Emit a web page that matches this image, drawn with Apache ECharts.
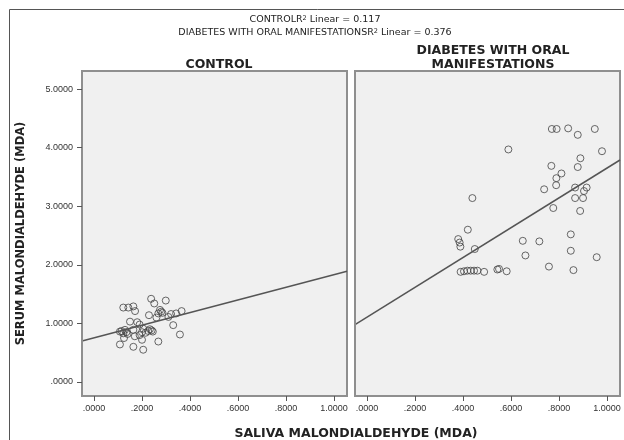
<!DOCTYPE html>
<html lang="en">
<head>
    <meta charset="UTF-8">
    <script type="text/javascript" src="https://cdn.jsdelivr.net/npm/echarts@6/dist/echarts.min.js"></script>
    <style>
        html, body { margin: 0; padding: 0; background: #fff; }
        #chart { width: 624px; height: 440px; }
    </style>
</head>
<body>
    <div id="chart"></div>
</body>
<script>
    // tick values / labels
    var xTicks = [0, 0.2, 0.4, 0.6, 0.8, 1.0];
    var yTicks = [0, 1, 2, 3, 4, 5];

    // CONTROL group (saliva, serum)
    var controlPoints = [
        [0.122, 1.27], [0.143, 1.27], [0.164, 1.29], [0.171, 1.21], [0.238, 1.42], [0.251, 1.34],
        [0.299, 1.39], [0.275, 1.23], [0.268, 1.17], [0.229, 1.14], [0.321, 1.16], [0.342, 1.17],
        [0.365, 1.21], [0.310, 1.11], [0.150, 1.03], [0.180, 1.02], [0.330, 0.97], [0.358, 0.81],
        [0.108, 0.86], [0.129, 0.89], [0.122, 0.83], [0.164, 0.89], [0.205, 0.91], [0.226, 0.87],
        [0.233, 0.90], [0.190, 0.80], [0.108, 0.64], [0.164, 0.60], [0.205, 0.55], [0.200, 0.72],
        [0.268, 0.69], [0.115, 0.87], [0.135, 0.85], [0.140, 0.82], [0.200, 0.85], [0.215, 0.84],
        [0.240, 0.88], [0.245, 0.86], [0.280, 1.20], [0.285, 1.18], [0.260, 1.10], [0.190, 0.98],
        [0.170, 0.78], [0.125, 0.75]
    ];
    // DIABETES WITH ORAL MANIFESTATIONS group
    var diabetesPoints = [
        [0.770, 4.32], [0.790, 4.32], [0.838, 4.33], [0.878, 4.22], [0.949, 4.32], [0.589, 3.97],
        [0.979, 3.94], [0.889, 3.82], [0.768, 3.69], [0.878, 3.67], [0.810, 3.56], [0.789, 3.48],
        [0.788, 3.36], [0.738, 3.29], [0.867, 3.32], [0.915, 3.32], [0.904, 3.26], [0.867, 3.14],
        [0.900, 3.14], [0.776, 2.97], [0.888, 2.92], [0.439, 3.14], [0.420, 2.60], [0.380, 2.44],
        [0.386, 2.38], [0.389, 2.31], [0.449, 2.27], [0.649, 2.41], [0.718, 2.40], [0.849, 2.52],
        [0.849, 2.24], [0.660, 2.16], [0.957, 2.13], [0.758, 1.97], [0.860, 1.91], [0.390, 1.88],
        [0.404, 1.89], [0.418, 1.90], [0.432, 1.90], [0.446, 1.90], [0.460, 1.90], [0.488, 1.88],
        [0.550, 1.93], [0.582, 1.89], [0.543, 1.92]
    ];
    // fit lines (end points at axis edges)
    var controlFit = [[-0.05, 0.70], [1.054, 1.89]];
    var diabetesFit = [[-0.05, 0.98], [1.054, 3.79]];

    var xMin = -0.05, xMax = 1.054, yMin = -0.24, yMax = 5.31;
    var font = "DejaVu Sans, sans-serif";
    var tickFont = "Liberation Sans, Arial, sans-serif";

    function fmt(v) {
        var s = v.toFixed(4);
        return s.charAt(0) === "0" ? s.substring(1) : s;
    }

    // axis line doubles as the panel frame, ticks point outward
    var frameLine = { show: true, onZero: false, lineStyle: { color: "#8f8f8f", width: 2 } };

    function xAxisOpt(idx) {
        return {
            type: "value", gridIndex: idx, min: xMin, max: xMax, z: 10,
            splitLine: { show: false },
            axisLine: frameLine,
            axisTick: { show: true, inside: false, length: 5, customValues: xTicks, lineStyle: { color: "#555", width: 1 } },
            axisLabel: { customValues: xTicks, formatter: fmt, fontSize: 9, color: "#333", fontFamily: tickFont, margin: 8 }
        };
    }
    function yAxisOpt(idx) {
        var o = {
            type: "value", gridIndex: idx, min: yMin, max: yMax, z: 10,
            splitLine: { show: false },
            axisLine: frameLine,
            axisTick: { show: idx === 0, inside: false, length: 5, customValues: yTicks, lineStyle: { color: "#555", width: 1 } },
            axisLabel: { show: idx === 0, customValues: yTicks, formatter: fmt, fontSize: 9, color: "#333", fontFamily: tickFont, margin: 9 }
        };
        if (idx === 0) {
            o.name = "SERUM MALONDIALDEHYDE (MDA)";
            o.nameLocation = "middle";
            o.nameGap = 55;
            o.nameTextStyle = { fontSize: 11.5, fontWeight: "bold", color: "#222", fontFamily: font };
        }
        return o;
    }

    var symbolStyle = { color: "rgba(0,0,0,0)", borderColor: "#444", borderWidth: 1 };
    var lineStyle = { color: "#555", width: 1.5 };

    var chart = echarts.init(document.getElementById("chart"));
    chart.setOption({
        animation: false,
        backgroundColor: "#fff",
        title: [
            { text: "CONTROLR{s|2} Linear = 0.117", left: 310, top: 10, textAlign: "center",
              textStyle: { fontSize: 9.5, fontWeight: "normal", color: "#222", fontFamily: font,
                  rich: { s: { fontSize: 6.5, verticalAlign: "top", color: "#222", fontFamily: font } } } },
            { text: "DIABETES WITH ORAL MANIFESTATIONSR{s|2} Linear = 0.376", left: 310, top: 23, textAlign: "center",
              textStyle: { fontSize: 9.5, fontWeight: "normal", color: "#222", fontFamily: font,
                  rich: { s: { fontSize: 6.5, verticalAlign: "top", color: "#222", fontFamily: font } } } },
            { text: "CONTROL", left: 214, top: 53, textAlign: "center",
              textStyle: { fontSize: 12.5, fontWeight: "bold", color: "#222", fontFamily: font } },
            { text: "DIABETES WITH ORAL\nMANIFESTATIONS", left: 488, top: 39, textAlign: "center",
              textStyle: { fontSize: 12.5, fontWeight: "bold", color: "#222", fontFamily: font, lineHeight: 14 } },
            { text: "SALIVA MALONDIALDEHYDE (MDA)", left: 351, top: 422, textAlign: "center",
              textStyle: { fontSize: 12.5, fontWeight: "bold", color: "#222", fontFamily: font } }
        ],
        graphic: [
            { type: "rect", shape: { x: 9.5, y: 9.5, width: 640, height: 460 },
              style: { fill: null, stroke: "#555", lineWidth: 1 }, silent: true, z: -1 }
        ],
        grid: [
            { left: 82, top: 71, width: 265, height: 325, show: true, backgroundColor: "#f0f0f0", borderColor: "#8f8f8f", borderWidth: 2 },
            { left: 355, top: 71, width: 265, height: 325, show: true, backgroundColor: "#f0f0f0", borderColor: "#8f8f8f", borderWidth: 2 }
        ],
        xAxis: [xAxisOpt(0), xAxisOpt(1)],
        yAxis: [yAxisOpt(0), yAxisOpt(1)],
        series: [
            { type: "scatter", xAxisIndex: 0, yAxisIndex: 0, data: controlPoints, symbol: "circle", symbolSize: 7, itemStyle: symbolStyle },
            { type: "line", xAxisIndex: 0, yAxisIndex: 0, data: controlFit, showSymbol: false, lineStyle: lineStyle },
            { type: "scatter", xAxisIndex: 1, yAxisIndex: 1, data: diabetesPoints, symbol: "circle", symbolSize: 7, itemStyle: symbolStyle },
            { type: "line", xAxisIndex: 1, yAxisIndex: 1, data: diabetesFit, showSymbol: false, lineStyle: lineStyle }
        ]
    });
</script>
</html>
